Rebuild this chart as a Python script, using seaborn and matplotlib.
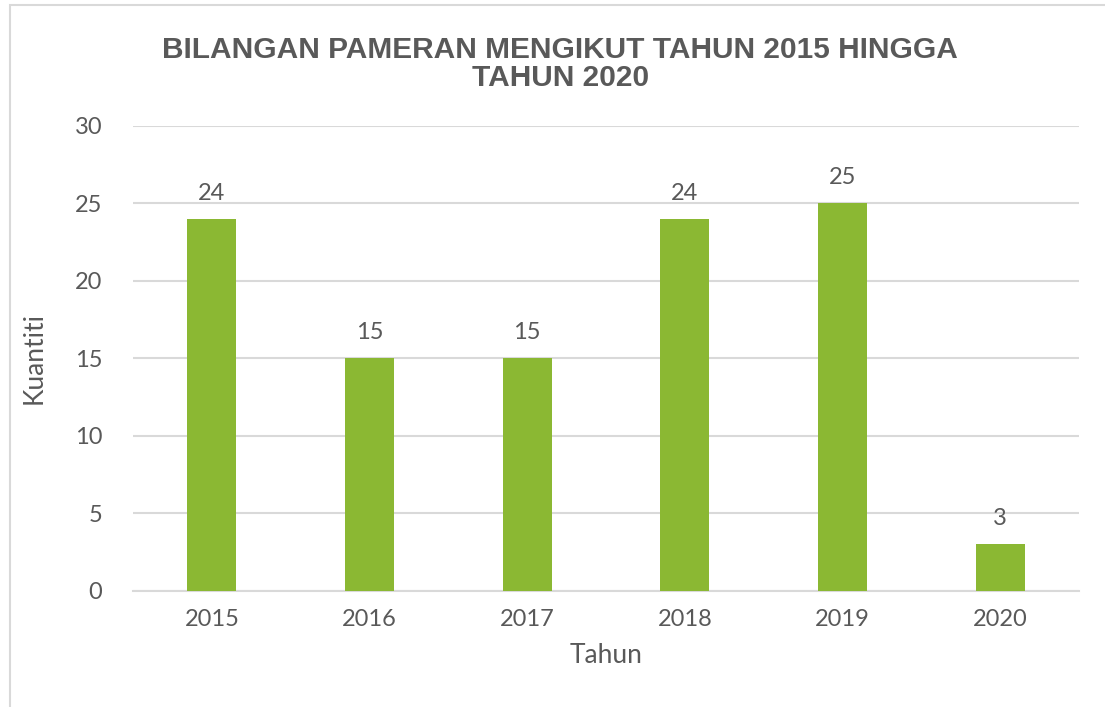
import numpy as np
import pandas as pd
import matplotlib.pyplot as plt
import seaborn as sns
from matplotlib.patches import Rectangle

# data
tahun = ["2015", "2016", "2017", "2018", "2019", "2020"]
kuantiti = [24, 15, 15, 24, 25, 3]

df = pd.DataFrame({"Tahun": tahun, "Kuantiti": kuantiti})

sns.set_style("white")
plt.rcParams['font.family'] = ['Lato', 'DejaVu Sans']
txt = "#595959"
green = "#8BB833"

fig = plt.figure(figsize=(11.05, 7.07), dpi=100)
ax = fig.add_axes([0.1204, 0.1641, 0.8561, 0.6577])

sns.barplot(data=df, x="Tahun", y="Kuantiti", color=green, width=0.31,
            saturation=1, linewidth=0, ax=ax, zorder=3)

ax.set_ylim(0, 30)
ax.set_xlim(-0.5, 5.5)
ax.set_yticks(range(0, 31, 5))
ax.yaxis.grid(True, color="#D9D9D9", linewidth=1.5, zorder=0)
ax.set_axisbelow(True)
for s in ["top", "right", "left"]:
    ax.spines[s].set_visible(False)
ax.spines["bottom"].set_color("#D9D9D9")
ax.spines["bottom"].set_linewidth(1.5)
ax.tick_params(axis="both", length=0, labelsize=17, colors=txt, pad=13)
ax.tick_params(axis="y", pad=22)

# value labels on top of bars
for i, v in enumerate(kuantiti):
    ax.annotate(str(v), (i, v), xytext=(0, 11), textcoords="offset points",
                ha="center", va="bottom", fontsize=17, color=txt)

ax.set_xlabel("Tahun", fontsize=19, color=txt, labelpad=9)
ax.set_ylabel("Kuantiti", fontsize=19, color=txt, labelpad=20)

fig.text(0.507, 0.91, "BILANGAN PAMERAN MENGIKUT TAHUN 2015 HINGGA\nTAHUN 2020",
         ha="center", va="center", fontsize=21.5, fontweight="bold", color=txt,
         family=["Liberation Sans", "DejaVu Sans"], linespacing=1.0)

# chart frame (cut off at right and bottom)
fig.patches.append(Rectangle((10 / 1105, -0.05), 1.1, 1 - 5 / 707 + 0.05,
                             transform=fig.transFigure, fill=False,
                             edgecolor="#D9D9D9", linewidth=1.5))

fig.savefig("out.png", dpi=100)
